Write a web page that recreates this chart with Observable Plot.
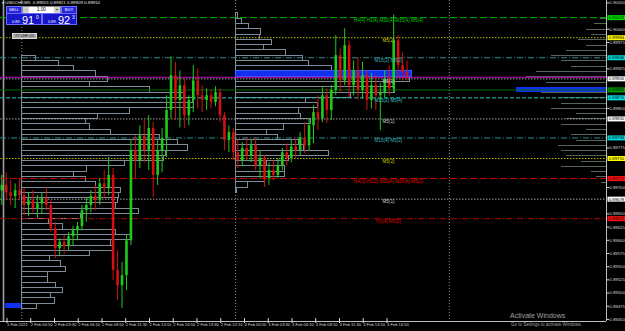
<!DOCTYPE html>
<html>
<head>
<meta charset="utf-8">
<script src="https://cdn.jsdelivr.net/npm/d3@7"></script>
<script src="https://cdn.jsdelivr.net/npm/@observablehq/plot@0.6"></script>
<style>
  html, body { margin: 0; padding: 0; background: #000; }
  #wrap { position: relative; width: 625px; height: 331px; overflow: hidden; background: #000;
          font-family: "Liberation Sans", Arial, sans-serif; }
  #wrap > svg { display: block; position: absolute; left: 0; top: 0; }
  .ov { position: absolute; white-space: nowrap; line-height: 1; box-sizing: border-box; }
  .btn { background: #2626dc; border: 1px solid #7070ff; color: #fff; font-size: 4.2px; text-align: center; line-height: 5.5px; height: 7.5px; }
  .pbox { background: #1616c8; border: 1px solid #6a6aff; color: #fff; height: 12px; }
  .spin { background: #d0d0d0; color: #333; font-size: 5px; text-align: center; line-height: 5.5px; width: 6px; height: 100%; top: 0; }
</style>
</head>
<body>
<div id="wrap"></div>
<script>
// ---------- DATA ----------
// 30-minute candles, USDCHF
const candleStart = "2021-02-01T21:30:00Z";
const candleMinutes = 30;
const open = [
0.89694,0.89704,0.89690,0.89683,0.89694,0.89685,0.89666,0.89675,0.89660,0.89669,
0.89679,0.89666,0.89622,0.89584,0.89596,0.89588,0.89607,0.89618,0.89626,0.89656,
0.89666,0.89683,0.89675,0.89707,0.89698,0.89723,0.89543,0.89514,0.89533,0.89599,
0.89770,0.89751,0.89798,0.89770,0.89812,0.89723,0.89770,0.89793,0.89846,0.89912,
0.89865,0.89893,0.89836,0.89865,0.89902,0.89874,0.89865,0.89874,0.89861,0.89880,
0.89836,0.89789,0.89804,0.89766,0.89751,0.89774,0.89760,0.89779,0.89741,0.89755,
0.89717,0.89732,0.89723,0.89741,0.89766,0.89755,0.89777,0.89770,0.89793,0.89779,
0.89817,0.89842,0.89830,0.89874,0.89846,0.89884,0.89950,0.89902,0.89969,0.89893,
0.89921,0.89884,0.89912,0.89865,0.89893,0.89874,0.89880,0.89906,0.89887,0.89978,
0.89931,0.89918];
const high = [
0.89723,0.89728,0.89713,0.89707,0.89717,0.89698,0.89690,0.89694,0.89685,0.89690,
0.89700,0.89675,0.89634,0.89603,0.89609,0.89615,0.89626,0.89634,0.89666,0.89679,
0.89694,0.89704,0.89717,0.89732,0.89757,0.89736,0.89580,0.89558,0.89609,0.89789,
0.89798,0.89817,0.89827,0.89836,0.89823,0.89789,0.89812,0.89874,0.89948,0.89937,
0.89921,0.89906,0.89874,0.89931,0.89925,0.89893,0.89887,0.89884,0.89891,0.89887,
0.89842,0.89817,0.89812,0.89789,0.89785,0.89794,0.89789,0.89793,0.89770,0.89760,
0.89747,0.89751,0.89755,0.89774,0.89783,0.89789,0.89793,0.89804,0.89823,0.89830,
0.89855,0.89874,0.89889,0.89887,0.89893,0.89988,0.89963,0.90001,0.89978,0.89940,
0.89946,0.89937,0.89921,0.89916,0.89912,0.89897,0.89921,0.89931,0.90027,0.89988,
0.89955,0.89940];
const low = [
0.89666,0.89675,0.89666,0.89660,0.89675,0.89647,0.89645,0.89652,0.89641,0.89649,
0.89656,0.89615,0.89565,0.89569,0.89573,0.89580,0.89590,0.89599,0.89618,0.89634,
0.89652,0.89656,0.89666,0.89679,0.89685,0.89524,0.89486,0.89471,0.89505,0.89590,
0.89717,0.89736,0.89747,0.89732,0.89681,0.89704,0.89728,0.89757,0.89830,0.89827,
0.89813,0.89812,0.89817,0.89842,0.89849,0.89842,0.89846,0.89849,0.89853,0.89823,
0.89770,0.89766,0.89751,0.89736,0.89740,0.89751,0.89747,0.89732,0.89717,0.89700,
0.89704,0.89713,0.89717,0.89732,0.89741,0.89747,0.89755,0.89760,0.89764,0.89770,
0.89783,0.89808,0.89823,0.89821,0.89827,0.89874,0.89878,0.89893,0.89870,0.89874,
0.89865,0.89868,0.89846,0.89849,0.89846,0.89808,0.89870,0.89874,0.89880,0.89908,
0.89902,0.89902];
const close = [
0.89704,0.89690,0.89683,0.89694,0.89685,0.89666,0.89675,0.89660,0.89669,0.89679,
0.89666,0.89622,0.89584,0.89596,0.89588,0.89607,0.89618,0.89626,0.89656,0.89666,
0.89683,0.89675,0.89707,0.89698,0.89723,0.89543,0.89514,0.89533,0.89599,0.89770,
0.89751,0.89798,0.89770,0.89812,0.89723,0.89770,0.89793,0.89846,0.89912,0.89865,
0.89893,0.89836,0.89865,0.89902,0.89874,0.89865,0.89874,0.89861,0.89880,0.89836,
0.89789,0.89804,0.89766,0.89751,0.89774,0.89760,0.89779,0.89741,0.89755,0.89717,
0.89732,0.89723,0.89741,0.89766,0.89755,0.89777,0.89770,0.89793,0.89779,0.89817,
0.89842,0.89830,0.89874,0.89846,0.89884,0.89950,0.89902,0.89969,0.89893,0.89921,
0.89884,0.89912,0.89865,0.89893,0.89874,0.89880,0.89906,0.89887,0.89978,0.89931,
0.89918,0.89910];

// Volume profiles (1-pip rows, relative volume)
const pip = 0.0001;
const profile1Anchor = "2021-02-02T00:00:00Z";
const profile1Top = 0.8995;
const profile1Vol = [14,37,52,74,86,68,128,162,171,172,108,76,64,68,89,138,156,166,144,142,
  103,65,52,64,74,99,97,96,94,117,59,27,41,94,110,89,91,68,28,39,44,26,26,34,41,29,33,15];
const profile2Anchor = "2021-02-03T00:00:00Z";
const profile2Top = 0.9003;
const profile2Vol = [2,6,13,25,24,36,28,50,67,73,96,176,174,149,159,115,70,82,63,65,75,48,
  31,42,63,68,93,53,31,49,49,29,12,1];
const profileRTop = 0.9002;
const profileRVol = [6,12,20,15,28,20,40,55,45,35,70,80,60,90,65,45,45,55,30,40,45,20,35,30,
  48,45,40,25,45,15,10,5];
const prevPocPrice = 0.8948;
const prevPocFrom = "2021-02-01T22:10:00Z";
const prevPocTo = "2021-02-02T00:00:00Z";

// Horizontal levels
const levelPrices = [0.90022,0.89984,0.89946,0.89909,0.89906,0.89885,0.89870,0.89830,0.89794,0.89755,0.89717,0.89678,0.89641];
const levelKinds  = ["W1","M5x2","M15","BID","M5x1","VPOC","M15x4","M5x1","M15","M5x2","H4","M5x1","H1"];
const levelLabels = ["H4(4) H1(4) M30(4) M15(4) M5(4)","M5(2)","M15(2) M5(2)","","M5(1)","","M15(2) M5(4)","M5(1)","M15(4) M5(2)","M5(2)","H4(2) H1(2) M30(4) M15(4) M5(2)","M5(1)","H1(4) M5(2)"];

// Axes
const daySeparators = ["2021-02-02T00:00:00Z","2021-02-03T00:00:00Z","2021-02-04T00:00:00Z"];
const timeTicks = ["2021-02-01T22:10:00Z","2021-02-02T00:50:00Z","2021-02-02T03:30:00Z","2021-02-02T06:10:00Z",
  "2021-02-02T08:50:00Z","2021-02-02T11:30:00Z","2021-02-02T14:10:00Z","2021-02-02T16:50:00Z","2021-02-02T19:30:00Z",
  "2021-02-02T22:10:00Z","2021-02-03T00:50:00Z","2021-02-03T03:30:00Z","2021-02-03T06:10:00Z","2021-02-03T08:50:00Z",
  "2021-02-03T11:30:00Z","2021-02-03T14:10:00Z","2021-02-03T16:50:00Z"];
const timeTickLabels = ["1 Feb 2021","2 Feb 00:50","2 Feb 03:30","2 Feb 06:10","2 Feb 08:50","2 Feb 11:30","2 Feb 14:10",
  "2 Feb 16:50","2 Feb 19:30","2 Feb 22:10","3 Feb 00:50","3 Feb 03:30","3 Feb 06:10","3 Feb 08:50","3 Feb 11:30",
  "3 Feb 14:10","3 Feb 16:50"];
const priceTicks = [0.89450,0.89475,0.89500,0.89525,0.89550,0.89575,0.89600,0.89625,0.89650,0.89675,0.89700,
  0.89725,0.89750,0.89775,0.89800,0.89825,0.89850,0.89875,0.89900,0.89925,0.89950,0.89975,0.90000,0.90025,0.90050];

// ---------- CHART ----------
const X0 = new Date("2021-02-01T21:36:20Z"), X1 = new Date("2021-02-04T17:38:50Z");
const Y0 = 0.894461, Y1 = 0.900545;
const minPerPx = 6.737;                 // time per pixel at this zoom
const minutesPerVolumeUnit = minPerPx;  // profile length scale
const addMin = (d, m) => new Date(+d + m * 60000);

const UP = "#1ccc1c", DN = "#d41010";
const candles = open.map((o, i) => ({
  t: addMin(new Date(candleStart), candleMinutes * i + candleMinutes / 2),
  o, h: high[i], l: low[i], c: close[i]
}));
const ups = candles.filter(d => d.c >= d.o), downs = candles.filter(d => d.c < d.o);

function leftRows(anchorStr, top, vols) {
  const a = new Date(anchorStr), mx = d3.max(vols);
  return vols.map((v, i) => ({ x1: a, x2: addMin(a, v * minutesPerVolumeUnit),
    y1: top - i * pip, y2: top - (i + 1) * pip, poc: v === mx }));
}
const p1 = leftRows(profile1Anchor, profile1Top, profile1Vol);
const p2 = leftRows(profile2Anchor, profile2Top, profile2Vol);
const pRmax = d3.max(profileRVol);
const pR = profileRVol.map((v, i) => ({ x1: addMin(X1, -v * minutesPerVolumeUnit), x2: X1,
  y1: profileRTop - i * pip, y2: profileRTop - (i + 1) * pip, poc: v === pRmax }));

const levelStyle = {
  W1:    {stroke: "#00b000", dash: "7,3",     text: "#00c800", tag: "#00e000"},
  M5x2:  {stroke: "#b8b800", dash: "1.5,1.5", text: "#c8c800", tag: "#ffff00"},
  M15:   {stroke: "#2a8c8c", dash: "6,2,1,2", text: "#3cb4b4", tag: "#00dcdc"},
  BID:   {stroke: "#c800c8", dash: null,      text: null,      tag: null},
  M5x1:  {stroke: "#a0a0a0", dash: "1.5,1.5", text: "#c8c8c8", tag: "#ffffff"},
  VPOC:  {stroke: "#006c00", dash: null,      text: null,      tag: "#00a000"},
  M15x4: {stroke: "#20c0c0", dash: "4,2",     text: "#30c8c8", tag: "#00e8e8"},
  H4:    {stroke: "#d00000", dash: "7,3",     text: "#e00000", tag: "#ff1010"},
  H1:    {stroke: "#b40000", dash: "6,2,1,2", text: "#e00000", tag: "#ff1010"}
};
const levels = levelPrices.map((p, i) => ({ price: p, kind: levelKinds[i], label: levelLabels[i] }));
const labelTime = new Date("2021-02-03T17:10:00Z");
const tickLabelMap = new Map(timeTicks.map((t, i) => [+new Date(t), timeTickLabels[i]]));
const fmt = d3.format(".5f");
// axis labels hidden underneath a price tag are not shown (as in the terminal)
const tagPrices = levels.filter(d => levelStyle[d.kind].tag).map(d => d.price);
const visibleTicks = priceTicks.filter(t => tagPrices.every(p => Math.abs(p - t) >= 0.000085));

const marks = [];
marks.push(Plot.ruleX([addMin(X0, 3 * minPerPx)], {stroke: "#9aa0a6", strokeWidth: 1.6}));
marks.push(Plot.ruleX(daySeparators.map(d => new Date(d)), {stroke: "#8a8a8a", strokeDasharray: "1,2"}));
// right-hand profile
marks.push(Plot.ruleY(pR.filter(d => !d.poc), {y: "y1", x1: "x1", x2: "x2", stroke: "#56655a", shapeRendering: "crispEdges"}));
marks.push(Plot.rect(pR.filter(d => d.poc), {x1: "x1", x2: "x2", y1: "y1", y2: "y2", fill: "#1030f0", shapeRendering: "crispEdges"}));
// previous POC
marks.push(Plot.rect([{x1: new Date(prevPocFrom), x2: new Date(prevPocTo), y1: prevPocPrice, y2: prevPocPrice - pip}],
  {x1: "x1", x2: "x2", y1: "y1", y2: "y2", fill: "#1030f0", shapeRendering: "crispEdges"}));
// session profiles
marks.push(Plot.rect(p1, {x1: "x1", x2: "x2", y1: "y1", y2: "y2", stroke: "#7e8c9a", fill: "none", shapeRendering: "crispEdges"}));
marks.push(Plot.rect(p2.filter(d => !d.poc), {x1: "x1", x2: "x2", y1: "y1", y2: "y2", stroke: "#7e8c9a", fill: "none", shapeRendering: "crispEdges"}));
marks.push(Plot.rect(p2.filter(d => d.poc), {x1: "x1", x2: "x2", y1: "y1", y2: "y2", fill: "#1030f0", stroke: "#3a5cff", shapeRendering: "crispEdges"}));
// levels
for (const [k, s] of Object.entries(levelStyle)) {
  const rows = levels.filter(d => d.kind === k);
  marks.push(Plot.ruleY(rows, {y: "price", stroke: s.stroke, strokeDasharray: s.dash || undefined, strokeWidth: k === "BID" ? 1.2 : 1}));
}
// candles
marks.push(Plot.ruleX(ups, {x: "t", y1: "l", y2: "h", stroke: UP, strokeWidth: 1}));
marks.push(Plot.ruleX(downs, {x: "t", y1: "l", y2: "h", stroke: DN, strokeWidth: 1}));
marks.push(Plot.ruleX(ups, {x: "t", y1: "o", y2: "c", stroke: UP, strokeWidth: 2.6}));
marks.push(Plot.ruleX(downs, {x: "t", y1: "o", y2: "c", stroke: DN, strokeWidth: 2.6}));
// level labels
for (const [k, s] of Object.entries(levelStyle)) {
  if (!s.text) continue;
  const rows = levels.filter(d => d.kind === k && d.label);
  marks.push(Plot.text(rows, {x: () => labelTime, y: "price", text: "label", fill: s.text, fontSize: 4.6, dy: 2.8, textAnchor: "middle"}));
}
// frame & axes
marks.push(Plot.ruleY([Y0], {stroke: "#c0c0c0"}));
marks.push(Plot.ruleX([X1], {stroke: "#c0c0c0"}));
marks.push(Plot.axisY({anchor: "right", ticks: visibleTicks, tickFormat: fmt, tickSize: 2, tickPadding: 0.8, fontSize: 4.3, label: null}));
marks.push(Plot.axisX({ticks: timeTicks.map(t => new Date(t)), tickFormat: d => tickLabelMap.get(+d), tickSize: 5, tickPadding: 0,
  dy: -3, dx: 1.5, textAnchor: "start", fontSize: 4.1, label: null}));
// price tags on the right axis
for (const [k, s] of Object.entries(levelStyle)) {
  if (!s.tag) continue;
  const rows = levels.filter(d => d.kind === k);
  marks.push(Plot.ruleY(rows, {y: "price", x1: () => addMin(X1, 1.5 * minPerPx), x2: () => addMin(X1, 19 * minPerPx), stroke: s.tag, strokeWidth: 5}));
  marks.push(Plot.text(rows, {y: "price", x: () => addMin(X1, 2.2 * minPerPx), text: d => fmt(d.price), fill: "#000", fontSize: 4.3, textAnchor: "start"}));
}

const chart = Plot.plot({
  width: 625, height: 331,
  marginLeft: 0, marginRight: 19, marginTop: 0, marginBottom: 10,
  x: {type: "utc", domain: [X0, X1]},
  y: {domain: [Y0, Y1]},
  style: {background: "#000", color: "#d8d8d8", fontFamily: "Liberation Sans, Arial, sans-serif"},
  marks
});
const wrap = document.getElementById("wrap");
wrap.appendChild(chart);

// terminal overlay: symbol line, one-click trading panel, label, watermark
wrap.insertAdjacentHTML("beforeend", `
<div class="ov" style="left:2px;top:0.5px;font-size:4.4px;color:#e6e6e6">▾ USDCHF,M5&nbsp; 0.89915 0.89921 0.89909 0.89910</div>
<div class="ov btn" style="left:6px;top:6px;width:16px">SELL</div>
<div class="ov" style="left:22px;top:6px;width:39px;height:7.5px;background:#fff;border:1px solid #888">
  <div class="ov spin" style="left:0">-</div>
  <div class="ov" style="left:6px;right:6px;top:0;font-size:4.5px;color:#000;text-align:center;line-height:5.5px">1.00</div>
  <div class="ov spin" style="right:0">+</div>
</div>
<div class="ov btn" style="left:61px;top:6px;width:16px">BUY</div>
<div class="ov pbox" style="left:6px;top:13px;width:36px">
  <span class="ov" style="left:5px;top:6px;font-size:4px">0.89</span>
  <span class="ov" style="left:15px;top:0.5px;font-size:11px">91</span>
  <span class="ov" style="left:29px;top:1px;font-size:5px">0</span>
</div>
<div class="ov pbox" style="left:42px;top:13px;width:35px">
  <span class="ov" style="left:5px;top:6px;font-size:4px">0.89</span>
  <span class="ov" style="left:15px;top:0.5px;font-size:11px">92</span>
  <span class="ov" style="left:29px;top:1px;font-size:5px">3</span>
</div>
<div class="ov" style="left:12px;top:33px;width:25px;height:6px;background:#a8a8a8;border:1px solid #d8d8d8;font-size:3.8px;color:#222;text-align:center;line-height:4px">77 CHF LD</div>
<div class="ov" style="left:510px;top:311.5px;font-size:7px;color:#a0a0a0">Activate Windows</div>
<div class="ov" style="left:511px;top:322.5px;font-size:4.5px;color:#a0a0a0">Go to Settings to activate Windows.</div>
`);
</script>
</body>
</html>
